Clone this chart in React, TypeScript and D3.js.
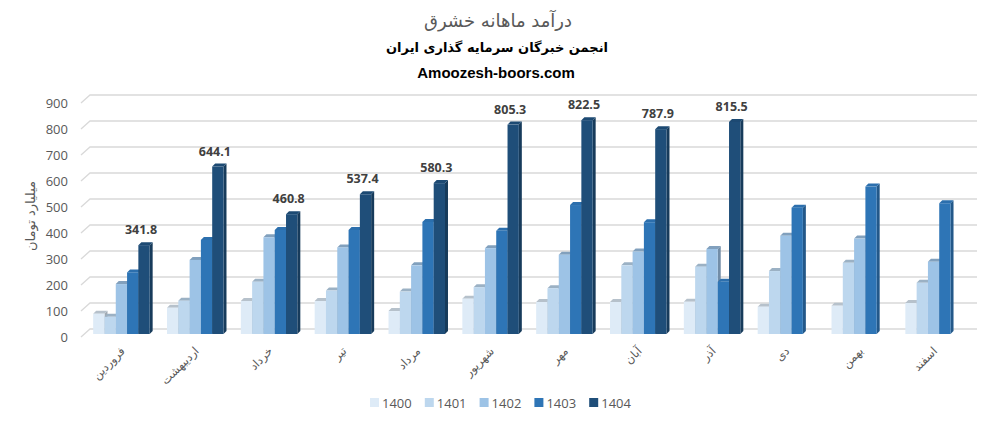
import React from "react";
import * as d3 from "d3";

const categories = ["فروردین", "اردیبهشت", "خرداد", "تیر", "مرداد", "شهریور", "مهر", "آبان", "آذر", "دی", "بهمن", "اسفند"];
const seriesNames = ["1400", "1401", "1402", "1403", "1404"];
const s1400 = [78, 101, 127, 127, 88, 136, 123, 123, 124, 105, 109, 119];
const s1401 = [66, 128, 201, 167, 163, 180, 176, 264, 259, 242, 274, 197];
const s1402 = [192, 285, 372, 333, 264, 330, 305, 317, 327, 378, 367, 278];
const s1403 = [237, 362, 400, 400, 431, 397, 496, 430, 201, 486, 567, 503];
const s1404: (number | null)[] = [341.8, 644.1, 460.8, 537.4, 580.3, 805.3, 822.5, 787.9, 815.5, null, null, null];
const yTicks = [0, 100, 200, 300, 400, 500, 600, 700, 800, 900];
const colors = ["#DEEBF7", "#BDD7EE", "#9DC3E6", "#2E75B6", "#1F4E79"];

const allSeries = [s1400, s1401, s1402, s1403, s1404];

export default function App() {
  const W = 1003, H = 427;
  const y = d3.scaleLinear().domain([0, 900]).range([334, 100]);
  const x = d3.scaleBand<string>().domain(categories).range([86, 972]).padding(0);
  const step = x.step();
  const groupW = step * 0.765;
  const xs = d3.scaleBand<string>().domain(seriesNames).range([0, groupW]).padding(0);
  const bw = xs.bandwidth();
  const off = (step - groupW) / 2 - 1.5;
  const d = 3;
  const grid = "#D9D9D9";
  const txt = "#595959";
  const fa = "'DejaVu Sans', sans-serif";
  const num = "'Open Sans', 'Noto Sans', sans-serif";

  return (
    <div style={{ position: "absolute", left: 0, top: 0, width: W, height: H, background: "#fff" }}>
      <svg width={W} height={H} style={{ display: "block" }}>
        <rect width={W} height={H} fill="#fff" />
        <text x={498} y={27} textAnchor="middle" fontFamily={fa} fontSize={18} fill={txt}>درآمد ماهانه خشرق</text>
        <text x={497} y={52} textAnchor="middle" fontFamily={fa} fontSize={13} fontWeight="bold" fill="#000">انجمن خبرگان سرمایه گذاری ایران</text>
        <text x={496} y={78} textAnchor="middle" fontFamily="'Liberation Sans', Arial, sans-serif" fontSize={15} fontWeight="bold" fill="#000">Amoozesh-boors.com</text>

        {yTicks.map((t) => (
          <g key={t}>
            <polyline
              points={`81,${y(t) + 3} 90,${y(t) - 5} 977,${y(t) - 5}`}
              fill="none"
              stroke={grid}
              strokeWidth={1.3}
            />
            <text x={68} y={y(t) + 3} textAnchor="end" dominantBaseline="central" fontFamily={num} fontSize={13} fill={txt}>{t}</text>
          </g>
        ))}

        <text transform="translate(30,216) rotate(-90)" textAnchor="middle" dominantBaseline="central" fontFamily={fa} fontSize={13} fill={txt}>میلیارد تومان</text>

        {categories.map((c, ci) => {
          const gx = (x(c) as number) + off;
          return (
            <g key={c}>
              {allSeries.map((s, si) => {
                const v = s[ci];
                if (v == null) return null;
                const bx = gx + (xs(seriesNames[si]) as number);
                const by = y(v);
                const y0 = y(0);
                const col = d3.color(colors[si])!;
                const top = col.darker(si < 3 ? 0.55 : 0.15).formatHex();
                const side = col.darker(si < 3 ? 0.9 : 0.8).formatHex();
                return (
                  <g key={si}>
                    <polygon points={`${bx + bw},${by} ${bx + bw + d},${by - d} ${bx + bw + d},${y0 - d} ${bx + bw},${y0}`} fill={side} />
                    <polygon points={`${bx},${by} ${bx + d},${by - d} ${bx + bw + d},${by - d} ${bx + bw},${by}`} fill={top} />
                    <rect x={bx} y={by} width={bw} height={y0 - by} fill={colors[si]} />
                  </g>
                );
              })}
              {s1404[ci] != null && (
                <text
                  x={gx + (xs("1404") as number) + bw / 2 - 3}
                  y={y(s1404[ci] as number) - 11}
                  textAnchor="middle"
                  fontFamily={num}
                  fontSize={12.5}
                  fontWeight="bold"
                  fill="#404040"
                >
                  {(s1404[ci] as number).toFixed(1)}
                </text>
              )}
              <text
                transform={`translate(${(x(c) as number) + step / 2},${349}) rotate(-45)`}
                textAnchor="end"
                dominantBaseline="central"
                fontFamily={fa}
                fontSize={11.5}
                fill={txt}
              >
                {c}
              </text>
            </g>
          );
        })}

        {seriesNames.map((s, i) => (
          <g key={s} transform={`translate(${370 + i * 54.8},398)`}>
            <rect x={0} y={0} width={9} height={9} fill={colors[i]} />
            <text x={12} y={4.5} dominantBaseline="central" fontFamily={num} fontSize={13} fill={txt}>{s}</text>
          </g>
        ))}
      </svg>
    </div>
  );
}
